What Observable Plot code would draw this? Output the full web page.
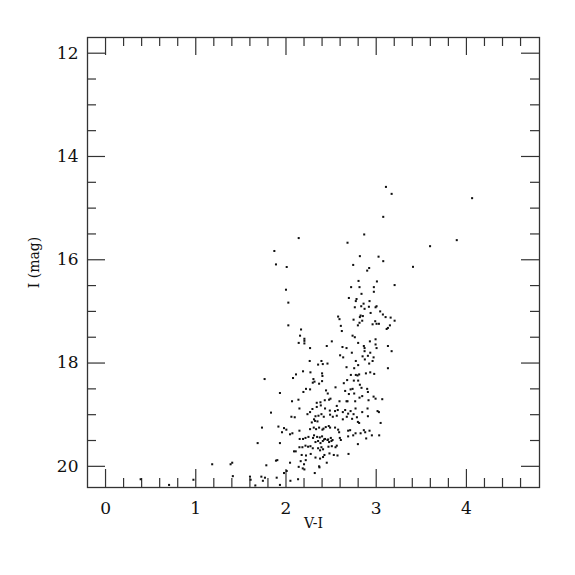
<!DOCTYPE html>
<html>
<head>
<meta charset="utf-8">
<script src="https://cdn.jsdelivr.net/npm/d3@7"></script>
<script src="https://cdn.jsdelivr.net/npm/@observablehq/plot@0.6"></script>
<style>
  html, body { margin: 0; padding: 0; background: #fff; }
</style>
</head>
<body>
<div id="chart"></div>
<script>
// V-I colour and I magnitude of the stars
const vi = [
  3.108, 3.171, 4.063, 3.078, 3.893, 3.597, 3.078, 3.408,
  2.867, 2.141, 2.682, 1.871, 2.819, 3.026, 1.889, 2.745, 2.008, 2.922, 2.900, 2.804,
  3.008, 3.204, 2.722, 2.815, 2.974, 2.000, 2.974, 2.837, 2.026, 2.697, 2.782, 2.774,
  2.860, 2.926, 2.763, 2.834, 2.871, 2.919, 3.004, 2.993, 3.044, 2.938, 2.827, 2.819,
  2.852, 3.074, 3.104, 3.160, 3.204, 2.989, 3.030, 2.960, 3.004, 2.749, 2.845, 2.578,
  2.593, 2.608, 2.026, 2.167, 2.797, 2.815, 3.152, 3.130, 3.116, 2.619, 2.156, 2.204,
  2.204, 2.141, 2.204, 2.267, 2.738, 2.763, 2.508, 2.452, 2.626, 2.671, 2.800, 2.863,
  2.871, 2.930, 2.993, 2.993, 3.004, 3.130, 3.171, 2.600, 2.634, 2.730, 2.871, 2.849,
  2.908, 2.934, 2.971,
  2.263, 2.356, 2.408, 2.460, 2.393, 2.671, 2.774, 2.800, 2.756, 2.874, 2.922, 2.960,
  3.130, 2.189, 2.111, 2.078, 2.271, 2.400, 2.404, 2.719, 2.774, 2.793, 2.811, 2.886,
  2.934, 2.978, 1.763, 2.304, 2.316, 2.297, 2.400, 2.367, 2.678, 2.752, 2.800, 2.641,
  2.819, 2.222, 2.267, 2.193, 1.933, 2.444, 2.463, 2.549, 2.656, 2.716, 2.738, 2.837,
  2.900, 2.908, 2.697, 2.756, 2.815, 2.845, 2.971, 2.993, 3.067, 2.067, 2.138, 2.341,
  2.382, 2.430, 2.478, 2.493, 2.593, 2.671, 2.682, 2.767, 2.915, 1.834, 2.149, 2.267,
  2.293, 2.238, 2.341, 2.386, 2.433, 2.486, 2.563, 2.574, 2.544, 2.630, 2.656, 2.716,
  2.689, 2.749, 2.771, 2.845, 2.904, 3.015, 3.030, 2.060, 2.097, 2.311, 2.327, 2.360,
  2.393, 2.419, 2.286, 2.322, 2.349, 2.489, 2.519, 2.563, 2.630, 2.674, 2.733, 2.786,
  2.797, 2.811, 2.908, 3.049, 1.734, 1.916, 1.956, 1.978, 2.004, 2.149, 2.267, 2.308,
  2.334, 2.367, 2.404, 2.416, 2.441, 2.474, 2.489, 2.544, 2.578, 2.589, 2.689, 2.711,
  2.771, 2.827, 2.863, 2.878, 2.926, 2.952, 3.033, 2.045, 2.071, 2.152, 2.189, 2.216,
  2.249, 2.300, 2.311, 2.345, 2.375, 2.400, 2.433, 2.467, 2.497, 2.516, 2.597, 2.608,
  2.689, 2.745, 2.797, 2.889, 1.686, 1.933, 2.089, 2.108, 2.149, 2.182, 2.216, 2.245,
  2.271, 2.297, 2.327, 2.356, 2.382, 2.408, 2.422, 2.356, 2.378, 2.393, 2.411, 2.460,
  2.478, 2.504, 2.471, 2.508, 2.549, 2.563, 2.530, 2.571, 2.426, 2.482, 2.174, 2.222,
  2.274, 2.327, 2.378, 2.411, 2.693, 1.889, 1.904, 2.045, 2.163, 2.200, 2.219, 2.141,
  2.186, 2.204, 2.367, 2.371, 2.452, 1.782, 1.933, 1.978, 2.008, 2.049, 2.134, 2.319,
  1.601, 1.660, 1.727, 1.744, 1.767, 1.897,
  1.182, 1.386, 1.404, 0.389, 0.704, 0.974, 1.411, 1.608
];
const imag = [
  14.589, 14.724, 14.807, 15.169, 15.620, 15.737, 16.027, 16.137,
  15.51, 15.58, 15.67, 15.83, 15.93, 15.94, 16.09, 16.10, 16.14, 16.16, 16.21, 16.41,
  16.42, 16.49, 16.53, 16.53, 16.53, 16.58, 16.62, 16.66, 16.83, 16.74, 16.76, 16.80,
  16.85, 16.80, 16.92, 16.90, 16.95, 16.91, 16.90, 16.92, 17.00, 17.03, 17.08, 17.11,
  17.09, 17.06, 17.11, 17.12, 17.18, 17.19, 17.24, 17.25, 17.24, 17.16, 17.18, 17.10,
  17.15, 17.28, 17.27, 17.35, 17.27, 17.22, 17.27, 17.32, 17.34, 17.38, 17.47, 17.53,
  17.57, 17.61, 17.62, 17.71, 17.47, 17.50, 17.58, 17.67, 17.69, 17.71, 17.61, 17.67,
  17.71, 17.58, 17.54, 17.64, 17.71, 17.67, 17.77, 17.85, 17.89, 17.80, 17.77, 17.87,
  17.86, 17.80, 17.89,
  17.96, 18.03, 18.02, 18.01, 17.96, 18.08, 17.96, 18.04, 18.10, 17.93, 18.01, 17.96,
  18.10, 18.16, 18.22, 18.29, 18.18, 18.20, 18.25, 18.23, 18.23, 18.24, 18.22, 18.20,
  18.18, 18.21, 18.31, 18.31, 18.36, 18.38, 18.35, 18.40, 18.33, 18.34, 18.34, 18.39,
  18.42, 18.50, 18.51, 18.56, 18.58, 18.53, 18.59, 18.47, 18.54, 18.51, 18.50, 18.48,
  18.50, 18.56, 18.60, 18.59, 18.67, 18.64, 18.65, 18.69, 18.70, 18.74, 18.71, 18.77,
  18.76, 18.72, 18.71, 18.69, 18.74, 18.74, 18.74, 18.74, 18.72, 18.96, 18.88, 18.95,
  18.89, 18.99, 18.85, 18.82, 18.88, 18.92, 18.83, 18.91, 18.93, 18.95, 18.91, 18.93,
  18.98, 18.99, 18.88, 18.95, 18.88, 18.93, 18.95, 19.04, 19.05, 19.09, 19.03, 19.02,
  18.99, 19.04, 19.15, 19.12, 19.13, 19.00, 19.04, 19.02, 19.09, 19.04, 19.08, 19.05,
  19.14, 19.16, 19.03, 19.16, 19.25, 19.23, 19.34, 19.26, 19.29, 19.31, 19.28, 19.25,
  19.28, 19.25, 19.29, 19.27, 19.24, 19.22, 19.25, 19.25, 19.29, 19.34, 19.31, 19.30,
  19.36, 19.36, 19.30, 19.34, 19.31, 19.40, 19.40, 19.38, 19.36, 19.47, 19.47, 19.45,
  19.43, 19.45, 19.40, 19.43, 19.44, 19.42, 19.47, 19.48, 19.45, 19.49, 19.45, 19.49,
  19.42, 19.40, 19.57, 19.46, 19.55, 19.55, 19.71, 19.71, 19.63, 19.63, 19.60, 19.62,
  19.61, 19.65, 19.53, 19.51, 19.55, 19.51, 19.48, 19.65, 19.69, 19.63, 19.67, 19.49,
  19.53, 19.51, 19.62, 19.61, 19.63, 19.60, 19.78, 19.79, 19.78, 19.75, 19.78, 19.79,
  19.76, 19.83, 19.85, 19.82, 19.76, 19.89, 19.88, 19.93, 19.90, 19.96, 19.88, 20.01,
  20.04, 20.06, 20.00, 20.02, 19.93, 19.98, 20.36, 20.13, 20.09, 20.28, 20.25, 20.13,
  20.20, 20.37, 20.20, 20.28, 20.22, 20.22,
  19.96, 19.96, 19.93, 20.25, 20.36, 20.26, 20.19, 20.26
];

// Axis ticks
const xMajor = [0, 1, 2, 3, 4];
const xMinor = [0.2, 0.4, 0.6, 0.8, 1.2, 1.4, 1.6, 1.8, 2.2, 2.4, 2.6, 2.8, 3.2, 3.4, 3.6, 3.8, 4.2, 4.4, 4.6];
const yMajor = [12, 14, 16, 18, 20];
const yMinor = [12.5, 13, 13.5, 14.5, 15, 15.5, 16.5, 17, 17.5, 18.5, 19, 19.5];
const xLabel = "V-I";
const yLabel = "I (mag)";

const stars = vi.map((v, i) => ({vi: v, i: imag[i]}));

const W = 575, H = 575;
const mL = 87, mR = 36, mT = 37, mB = 88;
const innerW = W - mL - mR, innerH = H - mT - mB;
const axisColor = "#333";
const bigTick = 18, smallTick = 9;

const tickMarks = (vals, len) => [
  Plot.tickX(vals, {x: d => d, stroke: axisColor, strokeWidth: 1.2, insetBottom: innerH - len}),
  Plot.tickX(vals, {x: d => d, stroke: axisColor, strokeWidth: 1.2, insetTop: innerH - len})
];
const tickMarksY = (vals, len) => [
  Plot.tickY(vals, {y: d => d, stroke: axisColor, strokeWidth: 1.2, insetRight: innerW - len}),
  Plot.tickY(vals, {y: d => d, stroke: axisColor, strokeWidth: 1.2, insetLeft: innerW - len})
];

const chart = Plot.plot({
  width: W,
  height: H,
  marginLeft: mL,
  marginRight: mR,
  marginTop: mT,
  marginBottom: mB,
  style: {fontFamily: "'DejaVu Serif', serif", fontSize: "17px", color: "#111", background: "#fff"},
  x: {domain: [-0.2, 4.81]},
  y: {domain: [11.696, 20.41], reverse: true},
  marks: [
    Plot.frame({stroke: axisColor, strokeWidth: 1.3}),
    ...tickMarks(xMajor, bigTick),
    ...tickMarks(xMinor, smallTick),
    ...tickMarksY(yMajor, bigTick),
    ...tickMarksY(yMinor, smallTick),
    Plot.axisX(xMajor, {tickSize: 0, tickPadding: 14, label: null, fontSize: 17, tickFormat: d => String(d)}),
    Plot.axisY(yMajor, {tickSize: 0, tickPadding: 9, label: null, fontSize: 17, tickFormat: d => String(d)}),
    Plot.dot(stars, {x: "vi", y: "i", symbol: "square", r: 1.15, fill: "#111", stroke: null}),
    Plot.text([xLabel], {text: d => d, frameAnchor: "bottom", textAnchor: "middle", dy: 40, fontSize: 14}),
    Plot.text([yLabel], {text: d => d, frameAnchor: "left", textAnchor: "middle", dx: -53, rotate: -90, fontSize: 14})
  ]
});
document.getElementById("chart").appendChild(chart);
</script>
</body>
</html>
